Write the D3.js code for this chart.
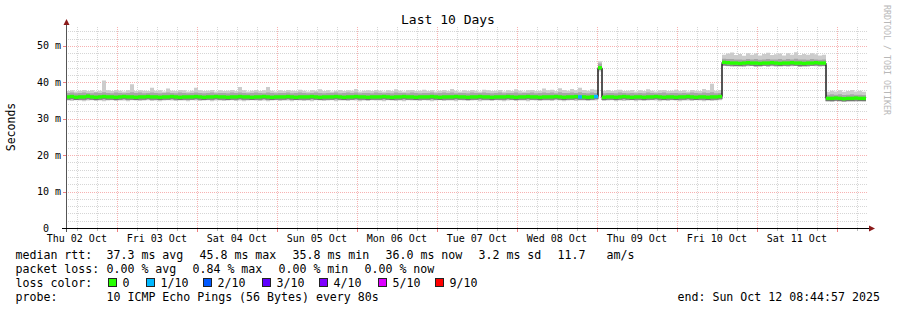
<!DOCTYPE html>
<html>
<head>
<meta charset="utf-8">
<script src="https://cdn.jsdelivr.net/npm/d3@7/dist/d3.min.js"></script>
<style>
  body { margin: 0; background: #fff; }
  text { font-family: "DejaVu Sans Mono", monospace; white-space: pre; }
</style>
</head>
<body>
<svg id="chart" width="897" height="310"></svg>
<script>
// ---- data (one sample per 1.2 h) ----
var startTime = Date.UTC(2025, 9, 2, 8, 44, 57);
var endTime = Date.UTC(2025, 9, 12, 8, 44, 57);

var median = [
  36.0,36.1,35.9,36.0,36.0,36.2,36.0,35.9,36.0,36.1,36.0,36.0,35.9,36.0,36.1,36.0,36.0,35.9,36.0,36.0,
  36.1,36.0,36.0,35.9,36.0,36.0,36.1,36.0,35.9,36.0,36.0,36.0,36.1,36.0,35.9,36.0,36.0,36.1,36.0,36.0,
  35.9,36.0,36.0,36.1,36.0,36.0,35.9,36.0,36.0,36.1,36.0,35.9,36.0,36.0,36.0,36.1,36.0,35.9,36.0,36.0,
  36.0,36.1,36.0,35.9,36.0,36.0,36.0,36.1,36.0,35.9,36.0,36.0,36.1,36.0,36.0,35.9,36.0,36.0,36.0,36.1,
  36.0,35.9,36.0,36.0,36.1,36.0,36.0,35.9,36.0,36.0,36.0,36.1,36.0,35.9,36.0,36.0,36.0,36.1,36.0,36.0,
  35.9,36.0,36.0,36.1,36.0,36.0,35.9,36.0,36.0,36.0,36.1,36.0,35.9,36.0,36.0,36.1,36.0,36.0,35.9,36.0,
  36.0,36.0,36.1,36.0,35.9,36.0,36.0,36.1,36.0,36.0,35.9,36.0,36.1,44.0,35.9,36.0,36.0,35.9,36.0,36.1,
  36.0,35.9,36.0,36.0,35.9,36.0,36.0,36.1,36.0,35.9,36.0,36.0,35.9,36.0,36.0,36.1,36.0,35.9,36.0,36.0,
  35.9,36.0,36.0,36.1,45.5,45.4,45.3,45.3,45.2,45.3,45.4,45.3,45.3,45.2,45.3,45.3,45.4,45.3,45.2,45.3,
  45.3,45.4,45.3,45.3,45.2,45.3,45.3,45.4,45.3,45.3,35.6,35.6,35.7,35.6,35.5,35.6,35.6,35.7,35.6,35.6
];

var smokeTop = [
  37.6,37.8,37.5,37.7,37.9,37.6,37.8,37.5,37.7,40.5,37.8,37.6,37.9,37.7,37.5,37.8,39.5,37.6,37.8,37.7,
  37.6,38.5,37.7,37.8,37.5,38.3,37.7,37.6,37.9,37.8,37.5,37.7,38.5,37.8,37.6,37.7,37.9,37.5,37.8,37.6,
  37.7,37.9,37.6,38.7,37.8,37.5,37.7,37.9,37.6,37.8,38.7,37.7,37.5,37.8,37.6,37.9,37.7,37.6,38.0,37.7,
  37.5,37.8,37.7,38.1,37.6,37.8,37.5,37.7,37.9,37.6,37.8,37.7,38.2,37.5,37.7,37.8,37.6,37.9,37.7,37.5,
  37.8,37.6,38.1,37.7,37.5,37.8,37.9,37.6,37.7,38.0,37.6,37.8,37.5,37.7,37.9,37.6,38.2,37.7,37.5,37.8,
  37.6,37.9,37.7,37.5,38.0,37.8,37.6,37.7,37.9,37.5,37.8,37.6,38.1,37.7,37.5,37.8,37.9,37.6,37.7,38.3,
  37.8,38.0,37.6,38.4,37.9,37.7,38.2,37.8,38.5,37.9,37.7,38.1,38.0,45.8,37.7,37.9,37.6,37.8,38.0,37.6,
  37.7,37.9,37.5,37.8,37.6,38.1,37.7,37.5,37.8,37.9,37.6,37.7,38.0,37.6,37.8,37.5,37.9,37.7,37.6,38.2,
  37.8,39.6,37.7,37.9,47.6,47.9,48.2,47.5,47.8,47.3,48.0,47.6,47.9,47.4,47.8,48.1,47.5,47.7,47.9,47.4,
  48.0,47.6,48.3,47.5,47.8,47.6,48.0,47.7,47.4,47.6,37.4,37.7,37.5,37.8,37.4,37.6,37.9,37.5,37.7,37.4
];

var innerTop = [
  37.1,37.2,37.0,37.1,37.2,37.1,37.0,37.2,37.1,37.3,37.1,37.0,37.2,37.1,37.0,37.1,37.3,37.1,37.2,37.0,
  37.1,37.2,37.1,37.0,37.1,37.2,37.1,37.0,37.2,37.1,37.0,37.1,37.2,37.1,37.0,37.1,37.2,37.0,37.1,37.1,
  37.0,37.2,37.1,37.2,37.1,37.0,37.1,37.2,37.1,37.0,37.2,37.1,37.0,37.1,37.1,37.2,37.0,37.1,37.2,37.1,
  37.0,37.1,37.2,37.1,37.0,37.1,37.1,37.2,37.0,37.1,37.2,37.1,37.2,37.0,37.1,37.1,37.0,37.2,37.1,37.0,
  37.1,37.0,37.2,37.1,37.1,37.0,37.2,37.1,37.0,37.1,37.1,37.2,37.0,37.1,37.2,37.1,37.2,37.0,37.1,37.1,
  37.0,37.2,37.1,37.1,37.2,37.1,37.0,37.1,37.2,37.0,37.1,37.1,37.2,37.0,37.1,37.1,37.2,37.0,37.1,37.2,
  37.1,37.2,37.0,37.3,37.1,37.1,37.2,37.1,37.3,37.1,37.0,37.2,37.1,45.2,37.0,37.1,37.1,37.0,37.2,37.1,
  37.0,37.1,37.0,37.1,37.0,37.2,37.1,37.0,37.1,37.2,37.0,37.1,37.1,37.0,37.1,37.0,37.2,37.1,37.0,37.2,
  37.1,37.3,37.0,37.1,46.5,46.4,46.4,46.3,46.3,46.2,46.4,46.3,46.4,46.2,46.3,46.4,46.3,46.3,46.4,46.2,
  46.4,46.3,46.5,46.3,46.3,46.2,46.4,46.3,46.2,46.3,36.6,36.7,36.6,36.7,36.5,36.6,36.7,36.6,36.6,36.5
];

var innerBot = [
  35.4,35.5,35.3,35.4,35.4,35.5,35.4,35.3,35.4,35.5,35.4,35.4,35.3,35.4,35.5,35.4,35.4,35.3,35.4,35.4,
  35.5,35.4,35.4,35.3,35.4,35.4,35.5,35.4,35.3,35.4,35.4,35.4,35.5,35.4,35.3,35.4,35.4,35.5,35.4,35.4,
  35.3,35.4,35.4,35.5,35.4,35.4,35.3,35.4,35.4,35.5,35.4,35.3,35.4,35.4,35.4,35.5,35.4,35.3,35.4,35.4,
  35.4,35.5,35.4,35.3,35.4,35.4,35.4,35.5,35.4,35.3,35.4,35.4,35.5,35.4,35.4,35.3,35.4,35.4,35.4,35.5,
  35.4,35.3,35.4,35.4,35.5,35.4,35.4,35.3,35.4,35.4,35.4,35.5,35.4,35.3,35.4,35.4,35.4,35.5,35.4,35.4,
  35.3,35.4,35.4,35.5,35.4,35.4,35.3,35.4,35.4,35.4,35.5,35.4,35.3,35.4,35.4,35.5,35.4,35.4,35.3,35.4,
  35.4,35.4,35.5,35.4,35.3,35.4,35.4,35.5,35.4,35.4,35.3,35.4,35.5,43.6,35.3,35.4,35.4,35.3,35.4,35.5,
  35.4,35.3,35.4,35.4,35.3,35.4,35.4,35.5,35.4,35.3,35.4,35.4,35.3,35.4,35.4,35.5,35.4,35.3,35.4,35.4,
  35.3,35.4,35.4,35.5,44.8,44.7,44.7,44.6,44.6,44.7,44.8,44.7,44.6,44.6,44.7,44.7,44.8,44.7,44.6,44.7,
  44.7,44.8,44.7,44.6,44.6,44.7,44.7,44.8,44.7,44.7,35.0,35.0,35.1,35.0,34.9,35.0,35.0,35.1,35.0,35.0
];

var smokeBot = [
  35.0,34.9,35.1,35.0,34.8,35.0,35.1,34.9,35.0,34.8,35.0,35.1,34.9,35.0,35.0,34.8,35.1,35.0,34.9,35.0,
  35.1,34.9,35.0,34.8,35.0,35.1,35.0,34.9,35.0,35.0,34.8,35.1,35.0,34.9,35.0,35.1,34.8,35.0,35.0,34.9,
  35.0,35.1,34.9,35.0,34.8,35.0,35.1,35.0,34.9,35.0,34.8,35.0,35.1,34.9,35.0,35.0,34.8,35.1,35.0,34.9,
  35.0,34.8,35.1,35.0,34.9,35.0,35.1,34.8,35.0,35.0,34.9,35.1,35.0,34.8,35.0,34.9,35.1,35.0,35.0,34.8,
  35.1,35.0,34.9,35.0,34.8,35.1,35.0,35.0,34.9,35.1,35.0,34.8,35.0,35.1,34.9,35.0,35.0,34.8,35.1,35.0,
  34.9,35.0,35.1,34.8,35.0,35.0,34.9,35.1,35.0,34.8,35.0,35.1,34.9,35.0,35.0,34.8,35.1,35.0,34.9,35.0,
  35.0,34.9,35.1,35.0,34.8,35.0,35.1,34.9,35.0,35.0,34.9,35.0,35.0,43.0,34.9,35.0,35.1,34.8,35.0,34.9,
  35.0,35.1,34.8,35.0,34.9,35.0,35.1,35.0,34.8,35.0,34.9,35.1,35.0,34.8,35.0,35.0,34.9,35.1,35.0,34.8,
  35.0,34.9,35.0,35.1,44.5,44.4,44.3,44.5,44.4,44.2,44.4,44.5,44.3,44.4,44.5,44.2,44.4,44.3,44.5,44.4,
  44.3,44.4,44.5,44.2,44.4,44.3,44.5,44.4,44.3,44.4,34.8,34.7,34.8,34.9,34.7,34.8,34.8,34.7,34.9,34.8
];

// sample index, loss level (tenths)
var lossEvents = [[128, 1], [132, 1]];

var lossColors = ["#26ff00", "#00b8ff", "#0059ff", "#5e00ff", "#7e00ff", "#dd00ff", "#ff0000"];
var lossLevels = [0, 1, 2, 3, 4, 5, 9];
var lossLabels = ["0", "1/10", "2/10", "3/10", "4/10", "5/10", "9/10"];

var yTicks = [0, 10, 20, 30, 40, 50];
var yTickLabels = ["0  ", "10 m", "20 m", "30 m", "40 m", "50 m"];

var dayLabels = ["Thu 02 Oct", "Fri 03 Oct", "Sat 04 Oct", "Sun 05 Oct", "Mon 06 Oct",
                 "Tue 07 Oct", "Wed 08 Oct", "Thu 09 Oct", "Fri 10 Oct", "Sat 11 Oct"];

var rttStats = ["37.3 ms avg", "45.8 ms max", "35.8 ms min", "36.0 ms now", "3.2 ms sd", "11.7", "am/s"];
var lossStats = ["0.00 % avg", "0.84 % max", "0.00 % min", "0.00 % now"];

// ---- stage ----
var svg = d3.select("#chart");
var stepMs = (endTime - startTime) / median.length;
var times = median.map(function(d, i) { return new Date(startTime + i * stepMs); });
times.push(new Date(endTime));

var x = d3.scaleUtc().domain([new Date(startTime), new Date(endTime)]).range([66, 866]);
var y = d3.scaleLinear().domain([0, 55.2]).range([228, 27]);

var plotLeft = 66, plotRight = 868, plotTop = 27, plotBottom = 228;
var minorCol = "#d6d6d6", majorCol = "#f7b2b2";

// grid
var grid = svg.append("g");
var minorY = d3.range(0, 55, 2).filter(function(v) { return v % 10 !== 0; });
grid.selectAll(".hmin").data(minorY).enter().append("line")
  .attr("x1", plotLeft).attr("x2", plotRight)
  .attr("y1", d => Math.round(y(d)) + 0.5).attr("y2", d => Math.round(y(d)) + 0.5)
  .attr("stroke", minorCol).attr("stroke-dasharray", "1,1");

var minorX = d3.utcHour.every(6).range(new Date(startTime), new Date(endTime))
  .filter(function(d) { return d.getUTCHours() !== 0; });
grid.selectAll(".vmin").data(minorX).enter().append("line")
  .attr("x1", d => Math.round(x(d)) + 0.5).attr("x2", d => Math.round(x(d)) + 0.5)
  .attr("y1", plotBottom).attr("y2", plotTop)
  .attr("stroke", minorCol).attr("stroke-dasharray", "1,1");

grid.selectAll(".hmaj").data(yTicks.slice(1)).enter().append("line")
  .attr("x1", plotLeft).attr("x2", plotRight)
  .attr("y1", d => Math.round(y(d)) + 0.5).attr("y2", d => Math.round(y(d)) + 0.5)
  .attr("stroke", majorCol).attr("stroke-dasharray", "1,1");

var days = d3.utcDay.range(new Date(startTime), new Date(endTime));
grid.selectAll(".vmaj").data(days).enter().append("line")
  .attr("x1", d => Math.round(x(d)) + 0.5).attr("x2", d => Math.round(x(d)) + 0.5)
  .attr("y1", plotBottom).attr("y2", plotTop)
  .attr("stroke", majorCol).attr("stroke-dasharray", "1,1");

// smoke
var pts = median.map(function(m, i) {
  return { t: times[i], m: m, top: smokeTop[i], bot: smokeBot[i], it: innerTop[i], ib: innerBot[i] };
});
var last = pts[pts.length - 1];
pts.push({ t: times[times.length - 1], m: last.m, top: last.top, bot: last.bot, it: last.it, ib: last.ib });

var outerArea = d3.area().curve(d3.curveStepAfter)
  .x(d => x(d.t)).y0(d => y(d.bot)).y1(d => y(d.top));
var innerArea = d3.area().curve(d3.curveStepAfter)
  .x(d => x(d.t)).y0(d => y(d.ib)).y1(d => y(d.it));

svg.append("path").datum(pts).attr("d", outerArea).attr("fill", "#cccccc");
svg.append("path").datum(pts).attr("d", innerArea).attr("fill", "#a6a6a6");
svg.append("path").datum(pts)
  .attr("d", d3.line().curve(d3.curveStepAfter).x(d => x(d.t)).y(d => y(d.ib)))
  .attr("fill", "none").attr("stroke", "#747474").attr("stroke-width", 1.2);

// median line
svg.append("path").datum(pts)
  .attr("d", d3.line().curve(d3.curveStepAfter).x(d => x(d.t)).y(d => y(d.m)))
  .attr("fill", "none").attr("stroke", "#000").attr("stroke-width", 1);

// loss colored band around median
var lossAt = {};
lossEvents.forEach(function(e) { lossAt[e[0]] = e[1]; });
function lossColor(l) {
  var k = lossLevels.indexOf(l);
  return k < 0 ? lossColors[lossColors.length - 1] : lossColors[k];
}
svg.append("g").selectAll("rect").data(median).enter().append("rect")
  .attr("x", (d, i) => x(times[i]))
  .attr("width", (d, i) => x(times[i + 1]) - x(times[i]))
  .attr("y", d => y(d) - 1.7)
  .attr("height", 3.4)
  .attr("fill", (d, i) => lossColor(lossAt[i] || 0));

// axes
var axes = svg.append("g");
axes.append("line").attr("x1", 66.5).attr("x2", 66.5).attr("y1", 232).attr("y2", 25)
  .attr("stroke", "#555");
axes.append("path").attr("d", "M63.5,25 L69.5,25 L66.5,19 Z").attr("fill", "#8b1a1a");
axes.append("line").attr("x1", 62).attr("x2", 870).attr("y1", 228.5).attr("y2", 228.5)
  .attr("stroke", "#000");
axes.append("path").attr("d", "M869,225.5 L869,231.5 L875,228.5 Z").attr("fill", "#8b1a1a");

axes.selectAll(".xtmin").data(minorX).enter().append("line")
  .attr("x1", d => Math.round(x(d)) + 0.5).attr("x2", d => Math.round(x(d)) + 0.5)
  .attr("y1", 229).attr("y2", 231).attr("stroke", "#bbbbbb");
axes.selectAll(".xtmaj").data(days).enter().append("line")
  .attr("x1", d => Math.round(x(d)) + 0.5).attr("x2", d => Math.round(x(d)) + 0.5)
  .attr("y1", 229).attr("y2", 232).attr("stroke", "#f08080");
axes.selectAll(".ytmaj").data(yTicks.slice(1)).enter().append("line")
  .attr("x1", 63).attr("x2", 66)
  .attr("y1", d => Math.round(y(d)) + 0.5).attr("y2", d => Math.round(y(d)) + 0.5)
  .attr("stroke", "#f08080");

// y tick labels
svg.append("g").selectAll("text").data(yTicks).enter().append("text")
  .attr("x", 61).attr("y", d => y(d) + 3.5)
  .attr("text-anchor", "end").attr("font-size", "10px").attr("fill", "#000")
  .text((d, i) => yTickLabels[i]);

// x labels centered at noon
svg.append("g").selectAll("text").data(dayLabels).enter().append("text")
  .attr("x", (d, i) => x(new Date(Date.UTC(2025, 9, 2 + i, 12))))
  .attr("y", 241.5)
  .attr("text-anchor", "middle").attr("font-size", "10px").attr("fill", "#000")
  .text(d => d);

// title, axis label, watermark
svg.append("text").attr("x", 448).attr("y", 23.5).attr("text-anchor", "middle")
  .attr("font-size", "13px").text("Last 10 Days");
svg.append("text").attr("transform", "translate(15,127) rotate(-90)")
  .attr("text-anchor", "middle").attr("font-size", "11.5px").text("Seconds");
svg.append("text").attr("transform", "translate(883.5,5) rotate(90)")
  .attr("font-size", "8.3px").attr("fill", "#b8b8b8").text("RRDTOOL / TOBI OETIKER");

// legend
var legend = svg.append("g").attr("font-size", "11.6px").attr("fill", "#000");
function put(str, lx, ly) {
  legend.append("text").attr("x", lx).attr("y", ly).text(str);
}
put("median rtt:", 15.5, 258.5);
var rttX = [106.5, 199.5, 292.5, 385.5, 478.5, 557.5, 606.5];
rttStats.forEach(function(s, i) { put(s, rttX[i], 258.5); });

put("packet loss:", 15.5, 272.5);
var lossX = [106.5, 192.5, 278.5, 364.5];
lossStats.forEach(function(s, i) { put(s, lossX[i], 272.5); });

put("loss color:", 15.5, 286.5);
var swatchX = [108, 146, 203, 262, 319, 378, 435];
lossLabels.forEach(function(s, i) {
  legend.append("rect").attr("x", swatchX[i] + 0.5).attr("y", 278.5)
    .attr("width", 8).attr("height", 8)
    .attr("fill", lossColors[i]).attr("stroke", "#222").attr("stroke-width", 1);
  put(s, swatchX[i] + 14.5, 286.5);
});

put("probe:", 15.5, 300.5);
put("10 ICMP Echo Pings (56 Bytes) every 80s", 106.5, 300.5);
put("end: Sun Oct 12 08:44:57 2025", 677.5, 300.5);
</script>
</body>
</html>
